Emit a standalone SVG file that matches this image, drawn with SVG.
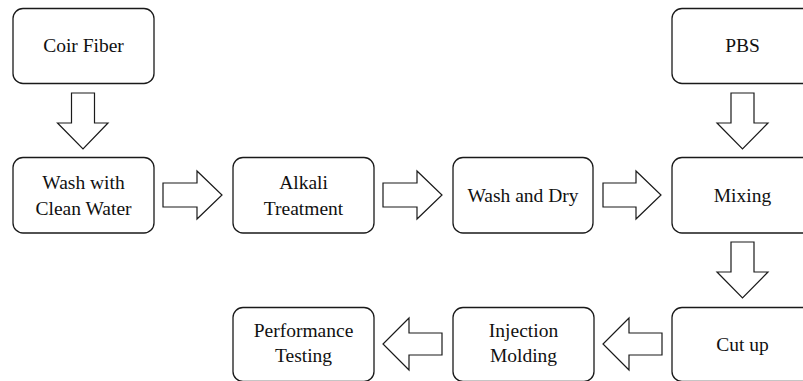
<svg xmlns="http://www.w3.org/2000/svg" width="803" height="381" viewBox="0 0 803 381">
<defs>
<style>
.box{fill:#fff;stroke:#1a1a1a;stroke-width:1.3}
.arr{fill:#fff;stroke:#1a1a1a;stroke-width:1.2;stroke-linejoin:miter}
</style>
</defs>
<rect width="803" height="381" fill="#fff"/>
<g id="coir"><rect class="box" x="13" y="8.5" width="141" height="75" rx="10"/><text font-family="Liberation Serif" font-size="19.5" text-anchor="middle" fill="#111" x="83.5" y="52">Coir Fiber</text></g>
<g id="pbs"><rect class="box" x="672" y="8.5" width="141" height="75" rx="10"/><text font-family="Liberation Serif" font-size="19.5" text-anchor="middle" fill="#111" x="742.5" y="52">PBS</text></g>
<g id="wash"><rect class="box" x="13" y="157.5" width="141" height="75.5" rx="10"/><text font-family="Liberation Serif" font-size="19.5" text-anchor="middle" fill="#111" x="83.5" y="188.5">Wash with</text><text font-family="Liberation Serif" font-size="19.5" text-anchor="middle" fill="#111" x="83.5" y="214.5">Clean Water</text></g>
<g id="alkali"><rect class="box" x="233" y="157.5" width="141" height="75.5" rx="10"/><text font-family="Liberation Serif" font-size="19.5" text-anchor="middle" fill="#111" x="303.5" y="188.5">Alkali</text><text font-family="Liberation Serif" font-size="19.5" text-anchor="middle" fill="#111" x="303.5" y="214.5">Treatment</text></g>
<g id="washdry"><rect class="box" x="453" y="157.5" width="140" height="75.5" rx="10"/><text font-family="Liberation Serif" font-size="19.5" text-anchor="middle" fill="#111" x="523" y="201.5">Wash and Dry</text></g>
<g id="mixing"><rect class="box" x="672" y="157.5" width="141" height="75.5" rx="10"/><text font-family="Liberation Serif" font-size="19.5" text-anchor="middle" fill="#111" x="742.5" y="201.5">Mixing</text></g>
<g id="cutup"><rect class="box" x="672" y="307.5" width="141" height="74" rx="10"/><text font-family="Liberation Serif" font-size="19.5" text-anchor="middle" fill="#111" x="742.5" y="351">Cut up</text></g>
<g id="injection"><rect class="box" x="453" y="307.5" width="141" height="74" rx="10"/><text font-family="Liberation Serif" font-size="19.5" text-anchor="middle" fill="#111" x="523.5" y="337">Injection</text><text font-family="Liberation Serif" font-size="19.5" text-anchor="middle" fill="#111" x="523.5" y="362">Molding</text></g>
<g id="performance"><rect class="box" x="233" y="307.5" width="141" height="74" rx="10"/><text font-family="Liberation Serif" font-size="19.5" text-anchor="middle" fill="#111" x="303.5" y="337">Performance</text><text font-family="Liberation Serif" font-size="19.5" text-anchor="middle" fill="#111" x="303.5" y="362">Testing</text></g>
<g id="connectors">
<polygon class="arr" points="71.5,93 94.5,93 94.5,123 108,123 83,149 57.5,123 71.5,123"/>
<polygon class="arr" points="731,93 754,93 754,123 768,123 742.5,149 717,123 731,123"/>
<polygon class="arr" points="731,242 754,242 754,272 768,272 742.5,298 717,272 731,272"/>
<polygon class="arr" points="163,183 197,183 197,171 222,195 197,219 197,207 163,207"/>
<polygon class="arr" points="383,183 417,183 417,171 442,195 417,219 417,207 383,207"/>
<polygon class="arr" points="603,183 636,183 636,171 661,195 636,219 636,207 603,207"/>
<polygon class="arr" points="662,333 629,333 629,318 603,344 629,370 629,355 662,355"/>
<polygon class="arr" points="442,333 409,333 409,318 383,344 409,370 409,355 442,355"/>
</g>
</svg>
